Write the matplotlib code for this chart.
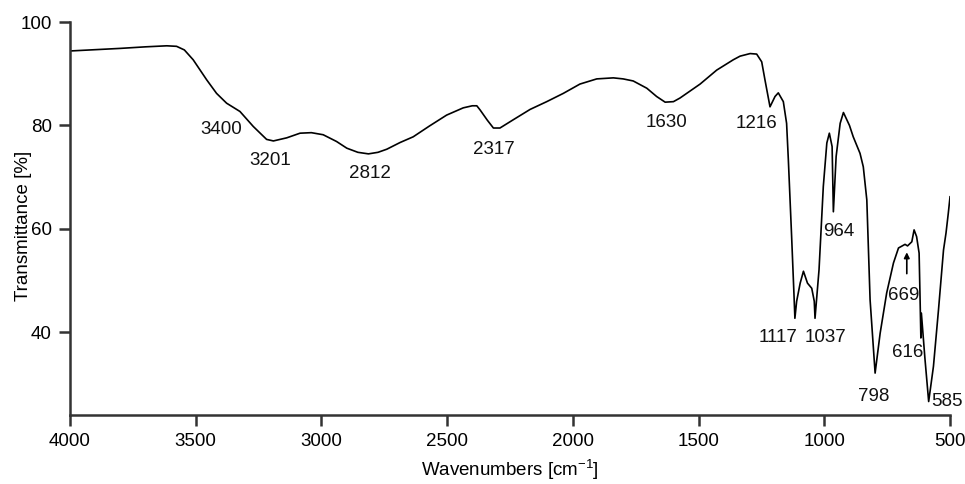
import matplotlib
matplotlib.use("Agg")
import matplotlib.pyplot as plt

wavenumber = [4000, 3800, 3700, 3615, 3576, 3545, 3510, 3456, 3417, 3377, 3324,
              3271, 3218, 3191, 3138, 3085, 3040, 2993, 2940, 2899, 2855, 2813,
              2775, 2740, 2687, 2635, 2570, 2502, 2436, 2400, 2382, 2369, 2340,
              2316, 2290, 2237, 2170, 2104, 2038, 1972, 1905, 1839, 1800, 1760,
              1706, 1667, 1633, 1600, 1574, 1494, 1428, 1362, 1335, 1295, 1269,
              1249, 1236, 1216, 1196, 1183, 1163, 1150, 1143, 1130, 1120, 1117,
              1110, 1096, 1083, 1067, 1050, 1040, 1037, 1021, 1004, 990, 980,
              969, 964, 953, 937, 924, 900, 885, 858, 845, 831, 818, 798, 778,
              752, 725, 705, 679, 669, 652, 643, 633, 623, 618, 616, 614, 600,
              585, 566, 546, 526, 516, 507, 500]
transmittance = [94.4, 94.9, 95.2, 95.4, 95.3, 94.6, 92.7, 88.8, 86.2, 84.3, 82.7,
                 79.8, 77.3, 77.0, 77.6, 78.5, 78.6, 78.2, 76.9, 75.6, 74.8, 74.5,
                 74.8, 75.4, 76.7, 77.8, 79.9, 82.0, 83.4, 83.8, 83.8, 83.0, 81.0,
                 79.5, 79.5, 81.1, 83.1, 84.6, 86.2, 88.0, 89.0, 89.2, 89.0, 88.6,
                 87.2, 85.6, 84.5, 84.6, 85.3, 88.0, 90.7, 92.7, 93.4, 93.9, 93.8,
                 92.3, 88.8, 83.6, 85.6, 86.3, 84.6, 80.4, 73.3, 58.5, 46.5, 42.7,
                 46.0, 49.5, 51.8, 49.5, 48.5, 46.0, 42.7, 52.1, 68.2, 76.6, 78.5,
                 75.9, 63.3, 74.0, 80.4, 82.5, 80.0, 77.8, 74.6, 72.0, 65.6, 46.3,
                 32.1, 39.8, 47.6, 53.4, 56.3, 57.0, 56.7, 57.5, 59.8, 58.5, 55.3,
                 43.7, 38.9, 43.7, 35.0, 26.6, 33.4, 44.3, 55.9, 59.2, 63.0, 66.2]

peak_labels = ["3400", "3201", "2812", "2317", "1630", "1216", "964",
               "1117", "1037", "669", "616", "798", "585"]
label_x = [3397, 3205, 2807, 2316, 1627, 1269, 944, 1183, 997, 686, 670, 805, 513]
label_y = [79.3, 73.3, 70.8, 75.4, 80.5, 80.4, 59.5, 38.9, 38.9, 47.2, 36.0, 27.6, 26.6]

plt.rcParams['font.family'] = ['Liberation Sans', 'DejaVu Sans']
plt.rcParams['mathtext.fontset'] = 'custom'
plt.rcParams['mathtext.rm'] = 'Liberation Sans'
plt.rcParams['mathtext.default'] = 'regular'

fs = 13.5
fig = plt.figure(figsize=(9.65, 4.84), dpi=100)
ax = fig.add_axes([0.0725, 0.1426, 0.912, 0.8119])

ax.plot(wavenumber, transmittance, color='black', linewidth=1.2)

for txt, x, y in zip(peak_labels, label_x, label_y):
    ax.text(x, y, txt, fontsize=fs, ha='center', va='center', color='#111111')

# arrow marking the weak 669 band
ax.annotate('', xy=(672, 56.0), xytext=(672, 50.8),
            arrowprops=dict(arrowstyle='-|>', color='black', lw=1.2,
                            mutation_scale=8))

ax.set_xlim(4000, 500)
ax.set_ylim(24, 100)
ax.set_xticks([4000, 3500, 3000, 2500, 2000, 1500, 1000, 500])
ax.set_yticks([40, 60, 80, 100])
ax.spines['top'].set_visible(False)
ax.spines['right'].set_visible(False)
for s in ['left', 'bottom']:
    ax.spines[s].set_linewidth(1.8)
    ax.spines[s].set_color('#333333')
ax.tick_params(length=8, width=1.8, color='#333333', labelsize=fs, pad=5)
ax.set_xlabel('Wavenumbers [cm$^{-1}$]', fontsize=fs)
ax.set_ylabel('Transmittance [%]', fontsize=fs)
ax.xaxis.set_label_coords(0.5, -0.108)
ax.yaxis.set_label_coords(-0.043, 0.48)

fig.savefig('out.png', dpi=100)
